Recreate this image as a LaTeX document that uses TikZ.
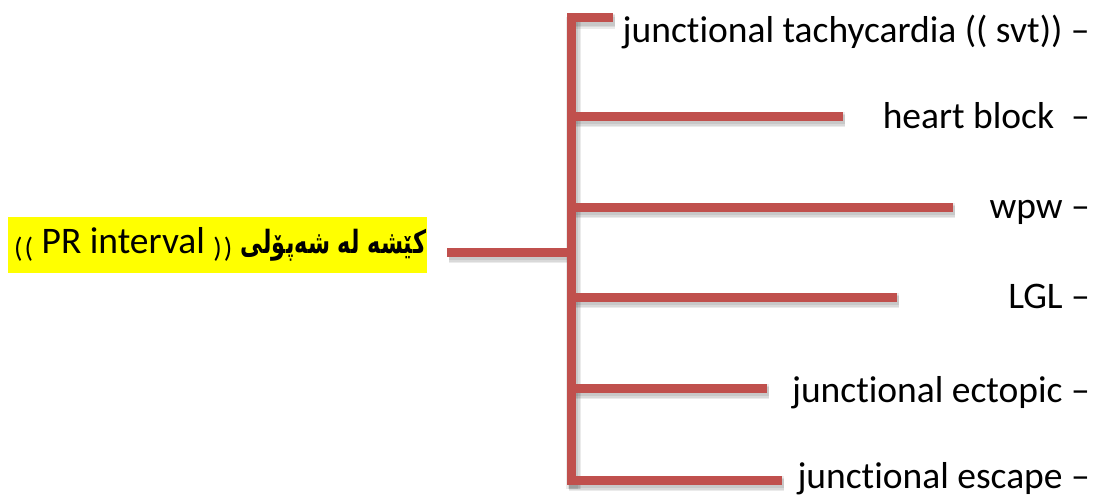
\documentclass[tikz,border=0pt]{standalone}
\usepackage{fontspec}
\setmainfont[Ligatures=NoCommon]{Carlito}
\newfontfamily\kurdfont[Script=Arabic]{DejaVu Sans}
\TeXXeTstate=1
\definecolor{branchred}{HTML}{C0504D}
\definecolor{hiyellow}{HTML}{FFFF00}
\newcommand{\smallparens}[1]{\raisebox{-4pt}{\fontsize{28}{30}\selectfont#1}}
\begin{document}
\begin{tikzpicture}[x=1pt,y=-1pt,
  lbl/.style={font=\fontsize{37.5}{44}\selectfont, inner sep=0pt, anchor=base east},
  branch/.style={draw=branchred, line width=9pt},
  shade/.style={draw=black, opacity=0.08, line width=#1},
  rootbox/.style={fill=hiyellow, inner xsep=1pt, inner ysep=0pt, text height=36pt, text depth=20pt,
    anchor=base west, font=\fontsize{37.5}{44}\selectfont}
]
\useasboundingbox (0,0) rectangle (1104,498);
% root label
\node[rootbox] (root) at (8,253) {\makebox[417pt][r]{\smallparens{(\kern2pt(}
  PR interval \smallparens{)\kern2pt)}
  \scalebox{0.7}[1]{\kurdfont\bfseries\fontsize{32}{36}\selectfont\beginR کێشه له شەپۆلی\endR}}};
% spine coordinates
\coordinate (rootline) at (447,252);
\coordinate (hub) at (571.5,252);
\coordinate (top) at (571.5,13);
\coordinate (bot) at (571.5,485);
% branch starts and ends
\coordinate (b1) at (567,17.5);  \coordinate (e1) at (613,17.5);
\coordinate (b2) at (567,116);   \coordinate (e2) at (843,116);
\coordinate (b3) at (567,207);   \coordinate (e3) at (953,207);
\coordinate (b4) at (567,297);   \coordinate (e4) at (897,297);
\coordinate (b5) at (567,388);   \coordinate (e5) at (767,388);
\coordinate (b6) at (567,480);   \coordinate (e6) at (782,480);
% shadows
\foreach \a/\b in {top/bot,rootline/hub,b1/e1,b2/e2,b3/e3,b4/e4,b5/e5,b6/e6}{
  \foreach \w in {15,12,9}{
    \draw[shade=\w pt] ([shift={(2,3.5)}]\a) -- ([shift={(2,3.5)}]\b);
  }
}
% red connectors
\draw[branch] (top) -- (bot);
\draw[branch] (rootline) -- (hub);
\foreach \i in {1,...,6}{
  \draw[branch] (b\i) -- (e\i);
}
% labels
\node[lbl] (t1) at (1090,42)  {junctional tachycardia (( svt)) –};
\node[lbl] (t2) at (1090,128) {heart block\ \ –};
\node[lbl] (t3) at (1090,218) {wpw –};
\node[lbl] (t4) at (1090,308) {LGL –};
\node[lbl] (t5) at (1090,402) {junctional ectopic –};
\node[lbl] (t6) at (1090,488) {junctional escape –};
\end{tikzpicture}
\end{document}
